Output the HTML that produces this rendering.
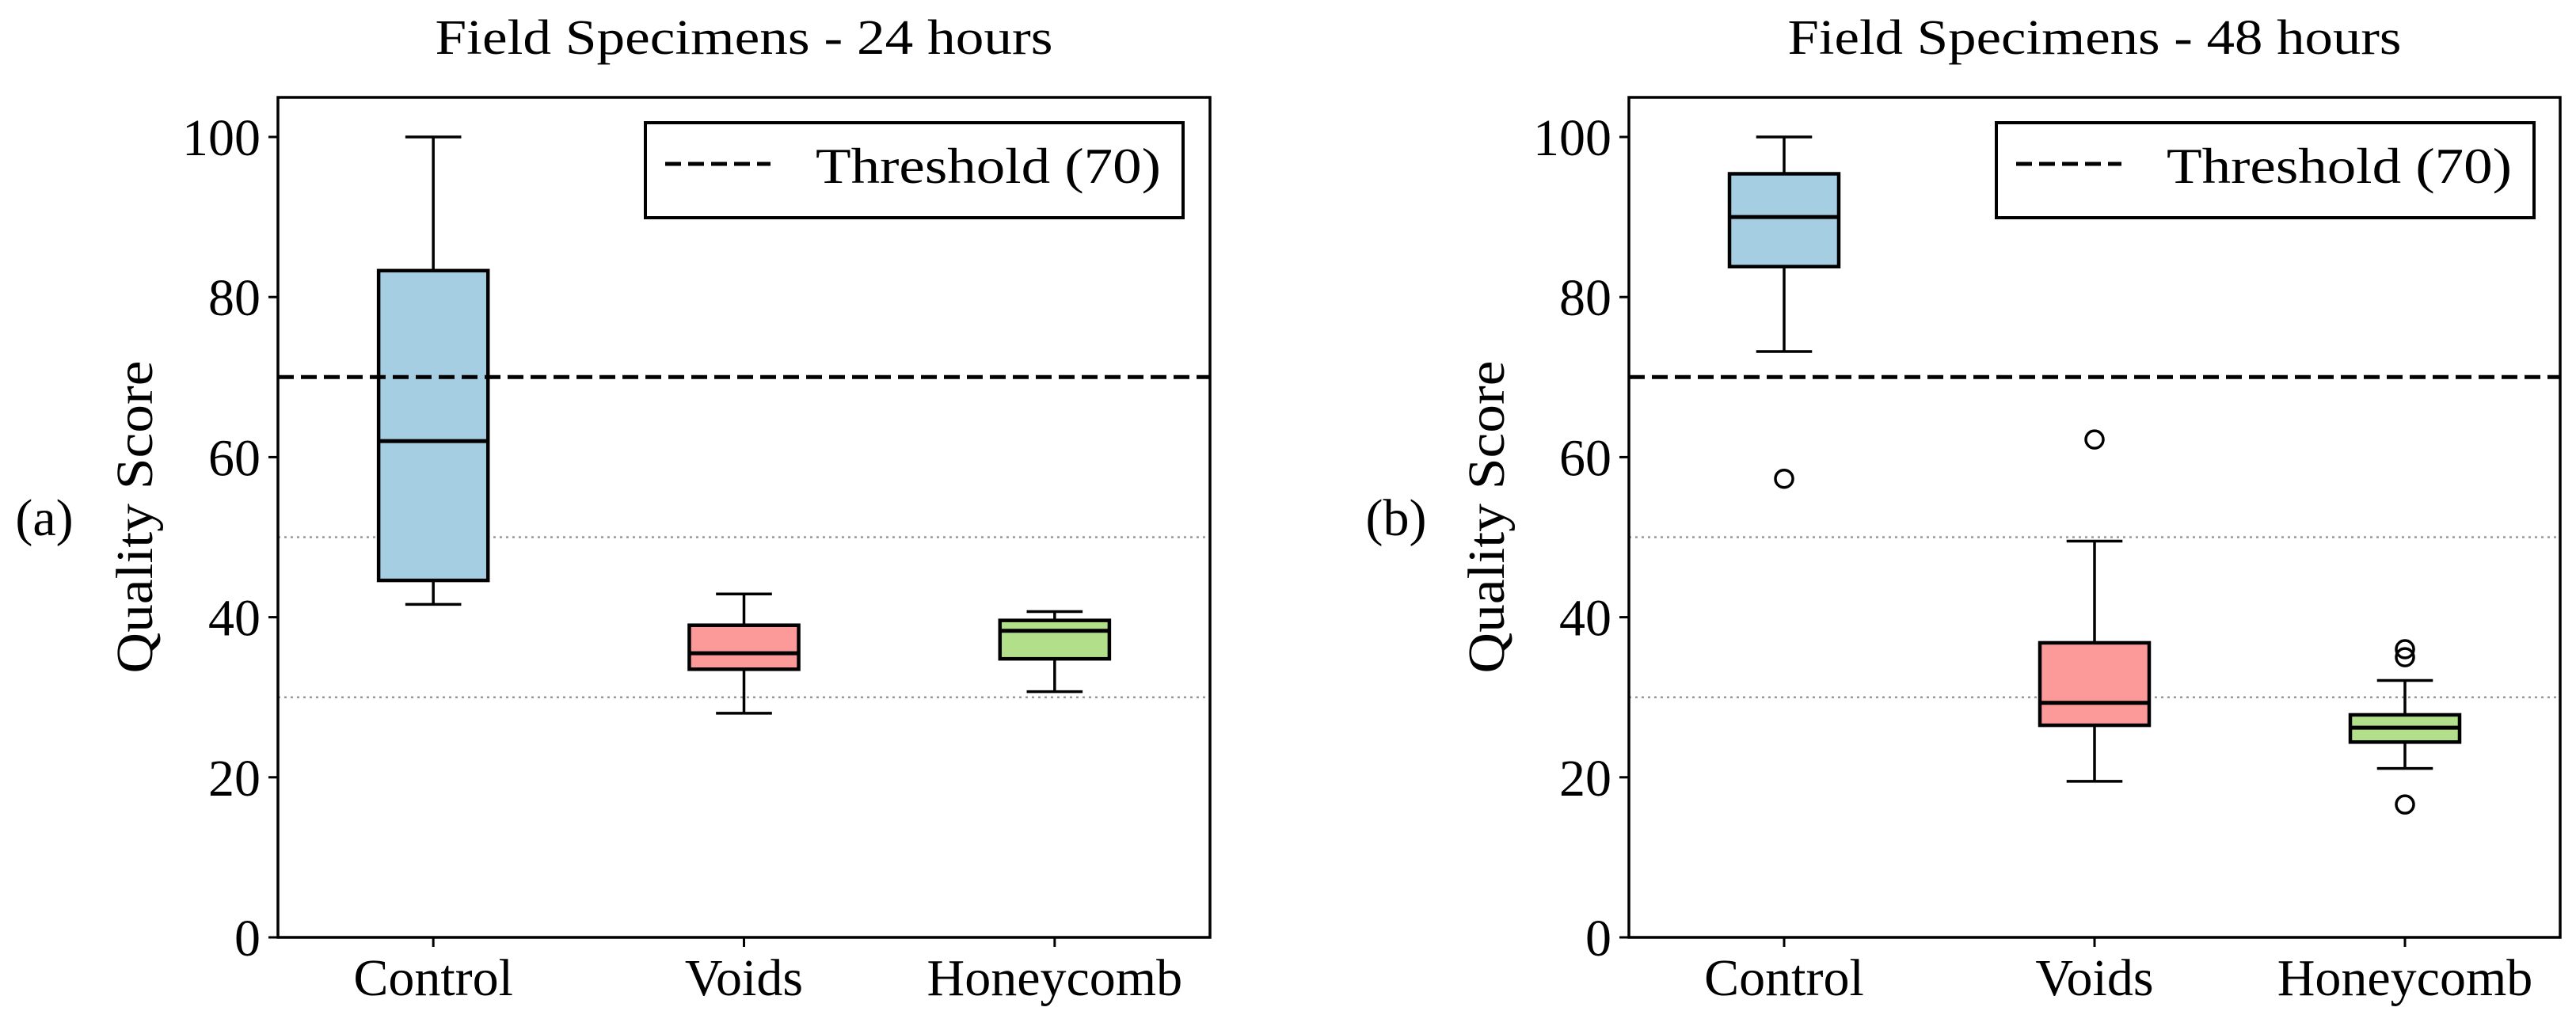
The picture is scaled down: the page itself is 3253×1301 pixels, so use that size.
<!DOCTYPE html>
<html><head><meta charset="utf-8"><style>
html,body{margin:0;padding:0;background:#fff}
svg{display:block}
text{font-family:"Liberation Serif",serif;fill:#000}
</style></head><body>
<svg id="chart" width="3253" height="1301" viewBox="0 0 3253 1301" xmlns="http://www.w3.org/2000/svg"></svg>
<script>
const categories = ["Control", "Voids", "Honeycomb"];
const yTicks = [0, 20, 40, 60, 80, 100];
const threshold = 70;
const gridValues = [50, 30];
// [lowerWhisker, q1, median, q3, upperWhisker]
const stats24 = [[41.6, 44.6, 62.0, 83.3, 100], [28.0, 33.5, 35.5, 39.0, 42.9], [30.7, 34.8, 38.3, 39.6, 40.7]];
const outliers24 = [[], [], []];
const stats48 = [[73.2, 83.8, 90.0, 95.4, 100], [19.5, 26.5, 29.3, 36.8, 49.5], [21.1, 24.4, 26.2, 27.8, 32.1]];
const outliers48 = [[57.3], [62.2], [36.0, 35.0, 16.6]];
const titles = ["Field Specimens - 24 hours", "Field Specimens - 48 hours"];
const panelLabels = ["(a)", "(b)"];
const colors = ["#a6cee3", "#fb9a99", "#b2df8a"];

const NS = "http://www.w3.org/2000/svg";
const svg = document.getElementById("chart");
function mk(tag, attrs, parent) {
  const e = document.createElementNS(NS, tag);
  for (const k in attrs) e.setAttribute(k, attrs[k]);
  (parent || svg).appendChild(e);
  return e;
}
const panels = [
  {x0: 351, x1: 1528, stats: stats24, outl: outliers24, title: titles[0], lab: panelLabels[0], tw: 780, ylabX: 170, labX: 56, legX: 815},
  {x0: 2057, x1: 3233, stats: stats48, outl: outliers48, title: titles[1], lab: panelLabels[1], tw: 775, ylabX: 1877, labX: 1763, legX: 2521}
];
const yTop = 123, yBot = 1184, y100 = 173;
function yScale(v) { return yBot - v * (yBot - y100) / 100; }

panels.forEach((p, pi) => {
  const g = mk("g", {});
  
  
  const step = (p.x1 - p.x0) / categories.length;
  const xScale = i => p.x0 + step * (i + 0.5);
  const bw = step * 0.352, cw = step * 0.18;

  gridValues.forEach(v => {
    const l = mk("line", {x1: p.x0, x2: p.x1, y1: yScale(v), y2: yScale(v), stroke: "#999", "stroke-width": 2.5, "stroke-dasharray": "3 5"}, g);
    
    
  });

  p.stats.forEach((s, i) => {
    const cx = xScale(i);
    const bg = mk("g", {}, g);
    
    
    mk("line", {x1: cx, x2: cx, y1: yScale(s[0]), y2: yScale(s[1]), stroke: "#000", "stroke-width": 3.5}, bg);
    mk("line", {x1: cx, x2: cx, y1: yScale(s[3]), y2: yScale(s[4]), stroke: "#000", "stroke-width": 3.5}, bg);
    mk("line", {x1: cx - cw/2, x2: cx + cw/2, y1: yScale(s[0]), y2: yScale(s[0]), stroke: "#000", "stroke-width": 3.5}, bg);
    mk("line", {x1: cx - cw/2, x2: cx + cw/2, y1: yScale(s[4]), y2: yScale(s[4]), stroke: "#000", "stroke-width": 3.5}, bg);
    mk("rect", {x: cx - bw/2, y: yScale(s[3]), width: bw, height: yScale(s[1]) - yScale(s[3]), fill: colors[i], stroke: "#000", "stroke-width": 4.5}, bg);
    mk("line", {x1: cx - bw/2, x2: cx + bw/2, y1: yScale(s[2]), y2: yScale(s[2]), stroke: "#000", "stroke-width": 5}, bg);
    p.outl[i].forEach(v => {
      const c = mk("circle", {cx: cx, cy: yScale(v), r: 11, fill: "none", stroke: "#000", "stroke-width": 3.5}, bg);
      
      
    });
    const xt = mk("line", {x1: cx, x2: cx, y1: yBot, y2: yBot + 12, stroke: "#000", "stroke-width": 3}, g);
    const tl = mk("text", {x: cx, y: 1257, "font-size": 66, "text-anchor": "middle"}, g);
    tl.textContent = categories[i];
    
    
  });

  const th = mk("line", {x1: p.x0, x2: p.x1, y1: yScale(threshold), y2: yScale(threshold), stroke: "#000", "stroke-width": 5, "stroke-dasharray": "20 9"}, g);
  
  

  yTicks.forEach(v => {
    mk("line", {x1: p.x0 - 12, x2: p.x0, y1: yScale(v), y2: yScale(v), stroke: "#000", "stroke-width": 3}, g);
    const t = mk("text", {x: p.x0 - 22, y: yScale(v) + 23, "font-size": 66, "text-anchor": "end"}, g);
    t.textContent = v;
    
    
  });

  const ax = mk("rect", {x: p.x0, y: yTop, width: p.x1 - p.x0, height: yBot - yTop, fill: "none", stroke: "#000", "stroke-width": 3.5}, g);
  
  

  const tt = mk("text", {x: (p.x0 + p.x1) / 2, y: 68, "font-size": 62, "text-anchor": "middle", textLength: p.tw, lengthAdjust: "spacingAndGlyphs"}, g);
  tt.textContent = p.title;
  
  

  const yl = mk("text", {x: 0, y: 0, "font-size": 66, "text-anchor": "middle", transform: `translate(${p.ylabX + 22},653) rotate(-90)`, textLength: 395, lengthAdjust: "spacingAndGlyphs"}, g);
  yl.textContent = "Quality Score";
  
  

  const pl = mk("text", {x: p.labX, y: 676, "font-size": 66, "text-anchor": "middle"}, g);
  pl.textContent = p.lab;
  
  

  const lg = mk("g", {}, g);
  
  
  mk("rect", {x: p.legX, y: 155, width: 679, height: 120, fill: "#fff", stroke: "#000", "stroke-width": 4}, lg);
  mk("line", {x1: p.legX + 25, x2: p.legX + 158, y1: 207, y2: 207, stroke: "#000", "stroke-width": 5, "stroke-dasharray": "20 9"}, lg);
  const lt = mk("text", {x: p.legX + 215, y: 231, "font-size": 64, textLength: 436, lengthAdjust: "spacingAndGlyphs"}, lg);
  lt.textContent = "Threshold (70)";
  
  
});
</script>
</body></html>
